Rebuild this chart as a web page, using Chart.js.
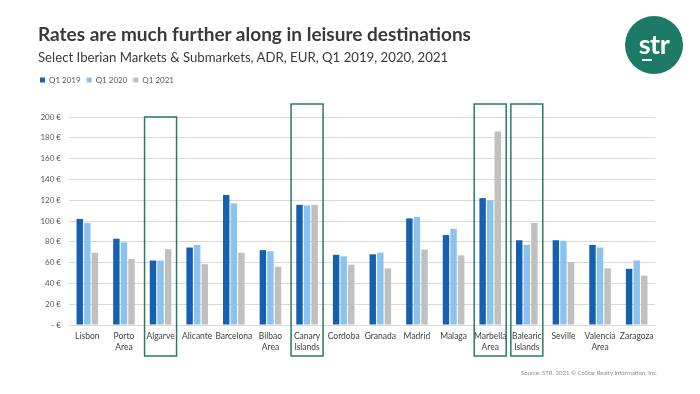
<!DOCTYPE html>
<html>
<head>
<meta charset="utf-8">
<script src="https://cdn.jsdelivr.net/npm/chart.js@4"></script>
<style>
  html, body { margin: 0; padding: 0; background: #fff; }
  body { width: 700px; height: 394px; position: relative; overflow: hidden; font-family: Lato, "Open Sans", sans-serif; }
  #wrap { position: absolute; left: 0; top: 0; width: 700px; height: 394px; }
  .title { position: absolute; left: 38px; top: 22px; font-size: 19px; font-weight: bold; color: #3a3a3a; white-space: nowrap; }
  .subtitle { position: absolute; left: 38px; top: 49px; font-size: 13.2px; color: #3a3a3a; white-space: nowrap; }
  .source { position: absolute; left: 521px; top: 369px; font-size: 6px; color: #8c8c8c; white-space: nowrap; }
  .logo { position: absolute; left: 625px; top: 16px; width: 58px; height: 58px; border-radius: 50%; background: #1d7a66; }
  .logo span { position: absolute; left: 0; right: 0; top: 11px; text-align: center; color: #fff; font-size: 27px; font-weight: bold; letter-spacing: -0.5px; }
  .logo i { position: absolute; left: 17px; top: 43px; width: 10px; height: 2px; background: #fff; }
</style>
</head>
<body>
<div id="wrap"><canvas id="adrChart"></canvas></div>
<div class="title">Rates are much further along in leisure destinations</div>
<div class="subtitle">Select Iberian Markets &amp; Submarkets, ADR, EUR, Q1 2019, 2020, 2021</div>
<div class="logo"><span>str</span><i></i></div>
<div class="source">Source: STR. 2021 © CoStar Realty Information, Inc.</div>
<script>
// markets (two-line labels where the original wraps)
const markets = [
    'Lisbon', ['Porto', 'Area'], 'Algarve', 'Alicante', 'Barcelona', ['Bilbao', 'Area'],
    ['Canary', 'Islands'], 'Cordoba', 'Granada', 'Madrid', 'Malaga', ['Marbella', 'Area'],
    ['Balearic', 'Islands'], 'Seville', ['Valencia', 'Area'], 'Zaragoza'
];

const adrQ12019 = [102, 83, 62, 74.5, 125, 72, 115.5, 67.5, 68, 102.5, 86.5, 122, 81.5, 81.5, 77, 54];
const adrQ12020 = [98, 79.5, 62, 77, 117, 71, 115, 66, 69.5, 104, 92.5, 120, 77, 81, 74.5, 62];
const adrQ12021 = [69.5, 63.5, 73, 58.5, 69.5, 56, 115.5, 58, 54.5, 72.5, 67, 186, 98, 60.5, 54.5, 47.5];

const yTicks = [0, 20, 40, 60, 80, 100, 120, 140, 160, 180, 200];

// leisure destinations outlined in the original
const highlighted = [2, 6, 11, 12];

const highlightBoxes = {
    id: 'highlightBoxes',
    afterDraw(chart) {
        const { ctx, chartArea, scales } = chart;
        ctx.save();
        ctx.strokeStyle = '#2a7a68';
        ctx.lineWidth = 1.5;
        highlighted.forEach(i => {
            const cx = scales.x.getPixelForValue(i);
            const top = i === 2 ? scales.y.getPixelForValue(200) : chartArea.top - 13;
            const bottom = chartArea.bottom + 31;
            ctx.strokeRect(cx - 16, top, 32, bottom - top);
        });
        ctx.restore();
    }
};

// leave a gap between the legend and the plot like the original slide
const legendGap = {
    id: 'legendGap',
    beforeLayout(chart) {
        const legend = chart.legend;
        if (!legend || legend._gapPatched) return;
        const fit = legend.fit;
        legend.fit = function () {
            fit.call(this);
            this.height = 47;
        };
        legend._gapPatched = true;
    }
};

const ctx = document.getElementById('adrChart').getContext('2d');

new Chart(ctx, {
    type: 'bar',
    data: {
        labels: markets,
        datasets: [
            { label: 'Q1 2019', data: adrQ12019, backgroundColor: '#1560b0' },
            { label: 'Q1 2020', data: adrQ12020, backgroundColor: '#8cc2f0' },
            { label: 'Q1 2021', data: adrQ12021, backgroundColor: '#c0c0c0' }
        ]
    },
    options: {
        responsive: true,
        maintainAspectRatio: false,
        animation: false,
        datasets: {
            bar: { categoryPercentage: 0.62, barPercentage: 0.85 }
        },
        layout: { padding: { top: 70, left: 34, right: 45, bottom: 0 } },
        plugins: {
            legend: {
                align: 'start',
                labels: {
                    boxWidth: 5, boxHeight: 5, padding: 6,
                    font: { family: 'Lato', size: 8 }, color: '#595959'
                }
            },
            tooltip: { enabled: false }
        },
        scales: {
            y: {
                min: 0, max: 200,
                afterFit: s => { s.width = 35; },
                afterBuildTicks: s => { s.ticks = yTicks.map(v => ({ value: v })); },
                grid: { color: '#d9d9d9', drawTicks: false },
                border: { display: false },
                ticks: {
                    padding: 8,
                    font: { family: 'Lato', size: 8 }, color: '#595959',
                    callback: v => v === 0 ? '- €' : v + ' €'
                }
            },
            x: {
                afterFit: s => { s.height = 69; },
                grid: { display: false, drawTicks: false },
                border: { color: '#d9d9d9' },
                ticks: {
                    maxRotation: 0, autoSkip: false, padding: 6,
                    font: { family: 'Lato', size: 8.5, lineHeight: 1.3 }, color: '#404040'
                }
            }
        }
    },
    plugins: [highlightBoxes, legendGap]
});
</script>
</body>
</html>
